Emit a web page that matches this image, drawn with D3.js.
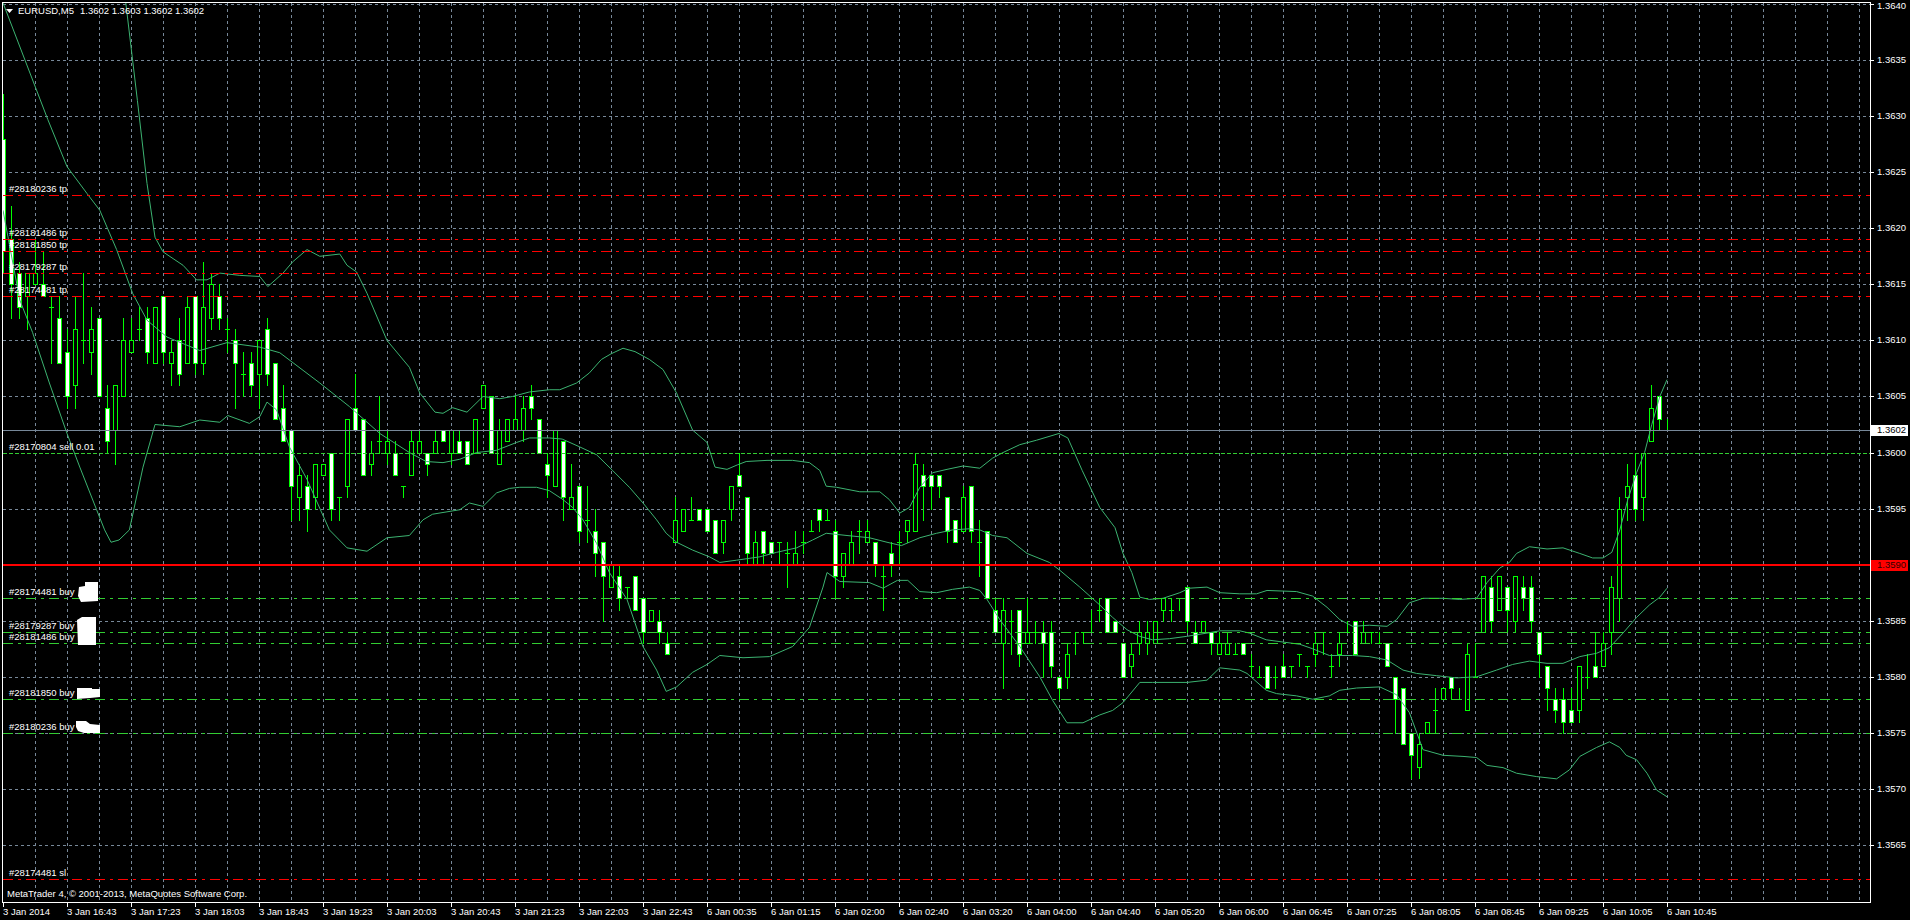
<!DOCTYPE html>
<html><head><meta charset="utf-8">
<script src="https://cdn.jsdelivr.net/npm/d3@7"></script>
<style>html,body{margin:0;padding:0;background:#000;overflow:hidden}svg{display:block}text{font-family:"Liberation Sans",Arial,sans-serif;font-size:9.5px}</style>
</head><body>
<svg id="c" width="1910" height="920"></svg>
<script>
// ---------- DATA (prices in pips, 1 pip = 0.0001) ----------
const openPips = [13628,13619,13616,13614,13615,13615,13613,13612,13609,13606,13610,13609,13612,13604,13602,13605,13609,13611,13612,13608,
13614,13608,13610,13608,13614,13608,13612,13614,13611,13610,13607,13608,13607,13611,13608,13604,13602,13596,13597,13596,
13598,13600,13596,13597,13604,13603,13599,13601,13600,13600,13597,13598,13600,13600,13600,13602,13600,13601,13601,13600,
13604,13605,13599,13601,13602,13602,13605,13603,13599,13597,13601,13595,13597,13594,13593,13592,13588,13589,13588,13589,
13587,13585,13585,13583,13592,13593,13594,13595,13595,13594,13592,13595,13598,13596,13590,13593,13592,13592,13591,13590,
13592,13593,13595,13594,13593,13589,13590,13593,13592,13592,13589,13591,13592,13593,13593,13598,13598,13598,13596,13594,
13593,13597,13592,13593,13586,13583,13585,13586,13583,13584,13584,13584,13580,13580,13583,13584,13584,13586,13587,13585,
13583,13581,13583,13583,13583,13586,13586,13587,13588,13584,13584,13584,13582,13582,13582,13583,13581,13580,13581,13580,
13581,13581,13582,13581,13582,13584,13581,13582,13584,13585,13583,13584,13583,13583,13580,13579,13575,13572,13575,13577,
13578,13580,13578,13577,13580,13584,13588,13586,13588,13585,13588,13588,13584,13581,13578,13578,13577,13577,13580,13581,
13581,13584,13587,13596,13598,13596,13601,13605,13602];
const highPips = [13632,13622,13617,13616,13619,13618,13614,13614,13611,13614,13616,13613,13612,13606,13606,13612,13612,13613,13613,13613,
13614,13610,13612,13614,13614,13617,13616,13615,13612,13611,13609,13609,13610,13612,13608,13606,13602,13599,13598,13599,
13599,13600,13596,13603,13607,13603,13601,13605,13602,13601,13597,13602,13602,13600,13602,13602,13602,13602,13601,13603,
13606,13605,13603,13603,13605,13605,13606,13603,13600,13602,13601,13599,13597,13597,13595,13592,13590,13590,13588,13589,
13587,13586,13586,13584,13596,13595,13596,13595,13595,13594,13594,13597,13600,13596,13593,13593,13592,13592,13592,13593,
13593,13594,13595,13595,13594,13591,13593,13594,13594,13592,13590,13592,13593,13594,13600,13599,13598,13598,13596,13594,
13597,13597,13594,13593,13587,13587,13586,13586,13587,13585,13585,13585,13580,13583,13584,13584,13586,13587,13587,13585,
13583,13583,13585,13585,13585,13587,13587,13587,13588,13585,13585,13584,13584,13584,13583,13583,13582,13581,13581,13581,
13582,13581,13582,13581,13584,13584,13582,13584,13585,13585,13585,13584,13584,13583,13580,13579,13575,13575,13576,13579,
13579,13580,13579,13583,13583,13589,13589,13589,13588,13589,13589,13589,13584,13581,13579,13579,13579,13581,13582,13584,
13584,13589,13596,13599,13600,13600,13606,13605,13603];
const lowPips = [13616,13612,13612,13611,13615,13614,13608,13608,13604,13604,13608,13607,13605,13600,13599,13605,13609,13610,13608,13608,
13608,13606,13606,13608,13607,13607,13611,13611,13609,13604,13605,13605,13604,13606,13603,13601,13594,13594,13593,13595,
13598,13594,13594,13596,13602,13598,13598,13600,13599,13598,13596,13598,13600,13598,13600,13601,13599,13600,13599,13600,
13604,13600,13599,13601,13602,13601,13603,13600,13596,13597,13594,13595,13592,13592,13589,13585,13588,13586,13587,13586,
13583,13585,13583,13582,13592,13593,13594,13594,13593,13591,13591,13594,13597,13590,13590,13590,13591,13590,13588,13590,
13591,13593,13593,13594,13587,13588,13590,13591,13592,13589,13586,13589,13590,13592,13593,13594,13595,13596,13592,13592,
13593,13592,13589,13587,13584,13579,13582,13581,13583,13583,13580,13580,13578,13579,13582,13583,13584,13585,13584,13584,
13580,13580,13582,13582,13583,13585,13585,13586,13584,13583,13584,13582,13582,13582,13582,13582,13580,13580,13579,13579,
13580,13580,13581,13580,13581,13582,13580,13581,13584,13582,13583,13583,13583,13581,13575,13574,13571,13571,13575,13575,
13578,13578,13578,13577,13580,13584,13584,13586,13584,13584,13586,13584,13580,13577,13576,13575,13576,13576,13579,13580,
13581,13582,13585,13594,13594,13594,13601,13602,13602];
const closePips = [13618,13615,13613,13616,13616,13614,13613,13608,13605,13611,13610,13611,13605,13601,13606,13610,13610,13611,13609,13613,
13609,13609,13607,13613,13608,13613,13615,13612,13611,13608,13607,13606,13610,13607,13603,13601,13597,13598,13595,13599,
13599,13595,13596,13603,13602,13598,13600,13601,13601,13598,13597,13601,13601,13599,13601,13601,13602,13600,13599,13603,
13606,13600,13602,13603,13603,13604,13604,13600,13598,13602,13596,13596,13593,13594,13591,13589,13590,13587,13588,13586,
13584,13586,13584,13582,13594,13595,13594,13594,13593,13591,13594,13597,13597,13591,13592,13591,13591,13592,13591,13591,
13592,13593,13594,13594,13589,13591,13592,13593,13593,13590,13589,13590,13592,13594,13599,13597,13597,13597,13593,13592,
13596,13593,13592,13587,13584,13586,13585,13582,13584,13584,13583,13581,13579,13582,13583,13584,13584,13586,13584,13584,
13580,13582,13584,13584,13585,13587,13586,13587,13585,13583,13585,13583,13583,13583,13582,13582,13581,13580,13579,13580,
13580,13581,13582,13581,13583,13584,13581,13583,13584,13582,13584,13584,13583,13581,13578,13574,13573,13574,13576,13577,
13579,13579,13578,13582,13580,13589,13585,13589,13586,13589,13587,13585,13582,13579,13577,13576,13576,13581,13580,13580,
13583,13588,13595,13597,13595,13600,13604,13603,13602];

// Bollinger bands: [bar index, price in pips]
const upperBand = [[0,13659],[5.6,13653],[10.5,13649],[13.3,13647],[15.3,13640.4],[16.8,13631.4],[18,13624.0],[19,13619.2],[20,13617.9],[22.5,13616.7],[24.2,13615.4],[25.5,13615.4],[27.1,13616.0],[29.6,13615.8],[32.1,13615.7],[33.1,13614.8],[35,13616.0],[36.2,13617.0],[38,13618.1],[39.6,13617.5],[42.1,13617.7],[43,13616.7],[44.2,13616.1],[45.5,13614.2],[48,13610.0],[50.8,13607.6],[52.1,13605.3],[54,13603.6],[55,13603.5],[56.2,13604.0],[58,13603.6],[60,13605.0],[62.1,13604.8],[63.7,13605.0],[65.8,13605.4],[68.3,13605.6],[69.6,13605.6],[71.7,13606.2],[73.3,13607.1],[74.8,13608.3],[76,13608.8],[77.5,13609.3],[79,13609.0],[80.8,13608.3],[82.5,13607.4],[84.2,13605.3],[86.2,13602.0],[88,13600.9],[89,13598.7],[90.5,13598.5],[91.8,13598.9],[92.9,13599.2],[95.5,13599.3],[98.7,13599.3],[100.8,13599.1],[102.1,13598.4],[102.9,13597.0],[104.2,13596.9],[107.1,13596.5],[109.6,13596.5],[110.8,13595.8],[112.1,13594.6],[113.3,13595.1],[114.6,13596.9],[116.2,13598.2],[118,13598.5],[120,13598.8],[122.1,13598.6],[123.7,13599.5],[125,13600.0],[127.1,13600.7],[129.2,13601.1],[132,13601.7],[133.1,13601.3],[134.9,13598.4],[137.1,13595.1],[139,13593.3],[140,13591.0],[141.1,13589.3],[142.1,13587.1],[143.3,13586.9],[145,13587.0],[147.1,13587.5],[148.3,13587.9],[150.5,13588.0],[152.1,13587.5],[154.6,13587.4],[156.7,13587.4],[158,13587.7],[161.7,13587.6],[163.7,13587.2],[165.5,13586.2],[167.1,13585.1],[168.7,13584.5],[170.8,13584.6],[173,13584.5],[174.2,13585.1],[175.8,13586.6],[177.5,13587.0],[180,13587.0],[182.1,13586.9],[184.2,13587.0],[185.5,13588.4],[187.1,13589.7],[188.3,13590.2],[189.2,13591.0],[190.8,13591.6],[193,13591.4],[195,13591.5],[197.1,13591.0],[198.7,13590.6],[200,13590.6],[201.1,13591.1],[202.1,13593.1],[203.1,13595.8],[204.2,13598.2],[205.2,13600.0],[206.1,13602.5],[207.1,13605.0],[208,13606.5]];
const middleBand = [[0,13640.1],[5.6,13629.7],[8,13625.5],[10.5,13623.1],[12.1,13621.6],[14.2,13618.1],[16.2,13614.2],[18,13611.8],[20.5,13610.3],[24.6,13609.1],[28,13609.8],[32.1,13609.4],[34.6,13608.9],[39.6,13606.2],[43.3,13604.1],[47.1,13601.7],[50.8,13600.0],[52.9,13599.2],[55,13599.1],[57.1,13599.4],[59.2,13600.0],[61.7,13600.2],[64.2,13600.9],[65.8,13601.3],[68.3,13601.3],[69.9,13601.2],[72.1,13600.5],[74.2,13599.8],[76.2,13598.4],[78.3,13596.9],[80,13595.5],[81.7,13594.0],[82.9,13592.8],[84.2,13592.0],[86.2,13591.3],[88.3,13590.7],[89.6,13590.2],[91.7,13590.4],[94.6,13590.7],[96.7,13591.1],[99.2,13591.5],[101.2,13592.2],[102.9,13592.8],[105.5,13592.6],[108.3,13592.4],[110.5,13592.0],[112.3,13591.7],[114.6,13592.4],[116.7,13592.8],[118.7,13593.1],[120.8,13593.2],[122.1,13593.1],[123.7,13592.6],[125.5,13592.4],[128,13591.0],[130.8,13590.2],[132.1,13589.5],[134.6,13588.0],[137.1,13586.4],[138.7,13585.3],[140.5,13584.2],[142.1,13583.6],[143.7,13583.3],[145.8,13583.4],[147.9,13583.6],[150.5,13583.9],[152.1,13584.1],[154.6,13584.1],[155.8,13583.9],[157.9,13583.3],[160,13583.1],[162.1,13582.9],[163.7,13582.5],[165.8,13581.9],[168.7,13581.9],[170.8,13581.8],[173,13581.5],[175,13580.6],[176.7,13580.3],[179.2,13580.1],[181.7,13579.9],[184.2,13580.0],[186.7,13580.6],[188.7,13581.1],[190.8,13581.4],[193,13581.2],[195,13581.2],[197.1,13581.8],[199.2,13582.1],[200.8,13582.6],[202.5,13583.9],[204.2,13585.3],[205.8,13586.4],[207.1,13587.1],[208,13587.9]];
const lowerBand = [[0,13621.6],[2.1,13613.6],[3.7,13610.7],[5.8,13606.2],[8,13601.7],[9.6,13598.7],[11.7,13594.9],[12.7,13593.1],[13.5,13592.0],[14.5,13592.2],[15.8,13593.1],[17.5,13598.7],[19,13602.5],[22.1,13602.3],[24.6,13602.9],[27.1,13602.7],[28.1,13603.3],[30.8,13602.6],[32.1,13603.2],[33,13604.5],[34.2,13603.8],[35.8,13600.5],[38,13597.6],[40.8,13593.1],[43,13591.5],[45.5,13591.2],[48,13592.4],[50.8,13592.6],[52.5,13594.0],[53.7,13594.5],[57.1,13594.9],[58.3,13595.5],[60,13595.2],[61.7,13596.4],[63.3,13596.8],[64.6,13596.9],[66.7,13596.9],[68.3,13596.6],[70,13595.8],[71.2,13595.1],[72.5,13594.0],[74.2,13591.9],[75.8,13589.3],[78,13586.9],[80,13582.7],[81.7,13580.6],[82.9,13578.7],[84.2,13579.1],[86.2,13580.4],[88,13581.1],[89.6,13581.9],[92.5,13581.7],[95.8,13581.8],[98.7,13582.7],[100.8,13584.4],[102.5,13588.0],[103,13589.3],[104.6,13588.5],[108.3,13588.4],[110,13587.9],[111.8,13588.6],[113.1,13588.6],[114.6,13587.6],[116.7,13587.5],[118.7,13587.8],[120.8,13588.0],[122.1,13587.7],[123,13586.9],[124.6,13585.1],[127.1,13582.7],[129.6,13580.0],[131.2,13577.9],[133,13575.9],[135,13575.9],[137.1,13576.6],[138.7,13577.0],[140,13577.7],[142.1,13579.5],[143.7,13579.5],[148,13579.5],[150.5,13579.7],[152.1,13580.8],[154.6,13580.6],[155.5,13580.3],[157.9,13578.8],[159.2,13578.5],[161.7,13578.3],[163.7,13578.0],[165.8,13578.3],[167.1,13578.8],[169.2,13579.0],[172.1,13579.1],[174.2,13578.4],[175.8,13576.8],[177.5,13573.5],[180,13573.0],[182.5,13572.9],[184.2,13572.8],[185.5,13572.1],[187.5,13571.9],[189.2,13571.4],[191.7,13571.1],[194.2,13570.9],[195.8,13571.7],[197.1,13572.9],[199.2,13573.7],[200.8,13574.2],[202.1,13573.7],[202.9,13573.0],[204.2,13572.6],[205.5,13571.4],[206.7,13569.9],[208,13569.3]];

const timeLabels = ["3 Jan 2014","3 Jan 16:43","3 Jan 17:23","3 Jan 18:03","3 Jan 18:43","3 Jan 19:23","3 Jan 20:03","3 Jan 20:43","3 Jan 21:23","3 Jan 22:03","3 Jan 22:43","6 Jan 00:35","6 Jan 01:15","6 Jan 02:00","6 Jan 02:40","6 Jan 03:20","6 Jan 04:00","6 Jan 04:40","6 Jan 05:20","6 Jan 06:00","6 Jan 06:45","6 Jan 07:25","6 Jan 08:05","6 Jan 08:45","6 Jan 09:25","6 Jan 10:05","6 Jan 10:45"];
const priceTicks = [1.3565,1.3570,1.3575,1.3580,1.3585,1.3590,1.3595,1.3600,1.3605,1.3610,1.3615,1.3620,1.3625,1.3630,1.3635,1.3640];

const tpLevels = [1.3623,1.3619,1.3618,1.3616,1.3614];
const tpLabels = ["#28180236 tp","#28181486 tp","#28181850 tp","#28179287 tp","#28174481 tp"];
const buyLevels = [1.3587,1.3584,1.3583,1.3578,1.3575];
const buyLabels = ["#28174481 buy","#28179287 buy","#28181486 buy","#28181850 buy","#28180236 buy"];
const slLevels = [1.3562];
const slLabels = ["#28174481 sl"];
const sellLevels = [1.3600];
const sellLabels = ["#28170804 sell 0.01"];
const hLineLevel = 1.3590;
const bidPrice = 1.3602;
const titleSymbol = "EURUSD,M5";
const titleOHLC = "1.3602 1.3603 1.3602 1.3602";
const copyright = "MetaTrader 4, \u00a9 2001-2013, MetaQuotes Software Corp.";

// ---------- DRAW ----------
const svg = d3.select("#c");
const P = {left:3, right:1870, top:3, bottom:902};
const x = d3.scaleLinear().domain([0,208]).range([3,1667]);
const y = d3.scaleLinear().domain([1.3565,1.3640]).range([845,4]);
const px = i => Math.round(x(i));
const py = v => Math.round(y(v));
const bars = openPips.map((o,i)=>({i, o:o/1e4, h:highPips[i]/1e4, l:lowPips[i]/1e4, c:closePips[i]/1e4}));

svg.append("rect").attr("width",1910).attr("height",920).attr("fill","#000");
svg.append("defs").append("clipPath").attr("id","clip").append("rect")
  .attr("x",P.left).attr("y",P.top).attr("width",P.right-P.left).attr("height",P.bottom-P.top);

const grid = svg.append("g").attr("clip-path","url(#clip)").style("shape-rendering","crispEdges");
grid.selectAll("line.h").data(priceTicks).join("line")
  .attr("x1",P.left).attr("x2",P.right).attr("y1",d=>py(d)+0.5).attr("y2",d=>py(d)+0.5)
  .attr("stroke","#778899").attr("stroke-dasharray","3,3");
const vIdx = d3.range(4, 234, 4).filter(i => x(i) < P.right);
grid.selectAll("line.v").data(vIdx).join("line")
  .attr("x1",d=>px(d)+0.5).attr("x2",d=>px(d)+0.5).attr("y1",P.top).attr("y2",P.bottom)
  .attr("stroke","#778899").attr("stroke-dasharray","3,3");

// candles
const cg = svg.append("g").attr("clip-path","url(#clip)").style("shape-rendering","crispEdges");
cg.selectAll("line.wick").data(bars).join("line")
  .attr("x1",d=>px(d.i)+0.5).attr("x2",d=>px(d.i)+0.5)
  .attr("y1",d=>py(d.h)).attr("y2",d=>py(d.l)+1).attr("stroke","#00ff00");
cg.selectAll("rect.body").data(bars.filter(d=>d.o!==d.c)).join("rect")
  .attr("x",d=>px(d.i)-1.5).attr("width",4)
  .attr("y",d=>Math.min(py(d.o),py(d.c))+0.5)
  .attr("height",d=>Math.abs(py(d.o)-py(d.c)))
  .attr("fill",d=>d.c<d.o?"#ffffff":"#000000").attr("stroke","#00ff00");
cg.selectAll("line.doji").data(bars.filter(d=>d.o===d.c)).join("line")
  .attr("x1",d=>px(d.i)-2).attr("x2",d=>px(d.i)+3)
  .attr("y1",d=>py(d.o)+0.5).attr("y2",d=>py(d.o)+0.5).attr("stroke","#00ff00");

// bands
const bg = svg.append("g").attr("clip-path","url(#clip)");
const line = d3.line().x(d=>x(d[0])).y(d=>y(d[1]/1e4));
[upperBand, middleBand, lowerBand].forEach(b=>{
  bg.append("path").attr("d",line(b)).attr("fill","none").attr("stroke","#3cb371").attr("stroke-width",1);
});

// horizontal objects
const og = svg.append("g").attr("clip-path","url(#clip)").style("shape-rendering","crispEdges");
function hline(level, color, dash, width){
  const yy = width===2 ? py(level) : py(level)+0.5;
  og.append("line").attr("x1",P.left).attr("x2",P.right).attr("y1",yy).attr("y2",yy)
    .attr("stroke",color).attr("stroke-width",width||1).attr("stroke-dasharray",dash||null);
}
hline(bidPrice, "#778899", null, 1);
hline(hLineLevel, "#ff0000", null, 2);
tpLevels.forEach(v=>hline(v,"#ff0000","10,5,3,5"));
slLevels.forEach(v=>hline(v,"#ff0000","10,5,3,5"));
buyLevels.forEach(v=>hline(v,"#32cd32","10,5,3,5"));
sellLevels.forEach(v=>hline(v,"#32cd32","4,2"));

// order labels
const lg = svg.append("g");
function lab(levels, labels){
  levels.forEach((v,i)=>lg.append("text").attr("x",9).attr("y",py(v)-3).attr("fill","#ffffff").text(labels[i]));
}
lab(tpLevels,tpLabels); lab(buyLevels,buyLabels); lab(slLevels,slLabels); lab(sellLevels,sellLabels);
// white trade-arrow blobs next to buy labels
const blobs = [
  [[85,582],[98,582],[98,601],[81,602],[78,596],[79,587],[85,586]],
  [[82,617],[96,617],[96,645],[78,645],[77,620]],
  [[77,688],[92,688],[92,689],[100,689],[100,697],[90,698],[77,699]],
  [[76,721],[86,721],[90,724],[100,725],[100,733],[84,733],[78,731],[76,727]]
];
blobs.forEach(b=>lg.append("polygon").attr("points",b.map(p=>p.join(",")).join(" ")).attr("fill","#fff"));

// title
svg.append("polygon").attr("points","6,9 13,9 9.5,13").attr("fill","#fff");
svg.append("text").attr("x",18).attr("y",14).attr("fill","#fff").text(titleSymbol);
svg.append("text").attr("x",80).attr("y",14).attr("fill","#fff").text(titleOHLC);
svg.append("text").attr("x",7).attr("y",897).attr("fill","#fff").text(copyright);

// frame
svg.append("rect").attr("x",2.5).attr("y",2.5).attr("width",P.right-2).attr("height",P.bottom-2)
  .attr("fill","none").attr("stroke","#fff").style("shape-rendering","crispEdges");

// right price axis
const ra = svg.append("g").style("shape-rendering","crispEdges");
ra.selectAll("line").data(priceTicks).join("line")
  .attr("x1",P.right+1).attr("x2",P.right+4).attr("y1",d=>py(d)+0.5).attr("y2",d=>py(d)+0.5).attr("stroke","#fff");
svg.append("g").selectAll("text").data(priceTicks).join("text")
  .attr("x",1877).attr("y",d=>Math.max(py(d),6)).attr("dy","0.35em").attr("fill","#fff").text(d=>d.toFixed(4));
function priceBox(v, bgc, fg){
  svg.append("rect").attr("x",1871).attr("y",py(v)-5).attr("width",37).attr("height",11).attr("fill",bgc);
  svg.append("text").attr("x",1877).attr("y",py(v)).attr("dy","0.35em").attr("fill",fg).text(v.toFixed(4));
}
priceBox(bidPrice,"#ffffff","#000000");
priceBox(hLineLevel,"#ff0000","#300000");

// bottom time axis
const tIdx = timeLabels.map((t,j)=>j*8);
svg.append("g").style("shape-rendering","crispEdges").selectAll("line").data(tIdx).join("line")
  .attr("x1",d=>px(d)+0.5).attr("x2",d=>px(d)+0.5).attr("y1",P.bottom+1).attr("y2",P.bottom+5).attr("stroke","#fff");
svg.append("g").selectAll("text").data(timeLabels).join("text")
  .attr("x",(d,j)=>px(j*8)).attr("y",915).attr("fill","#fff").text(d=>d);
</script>
</body></html>
